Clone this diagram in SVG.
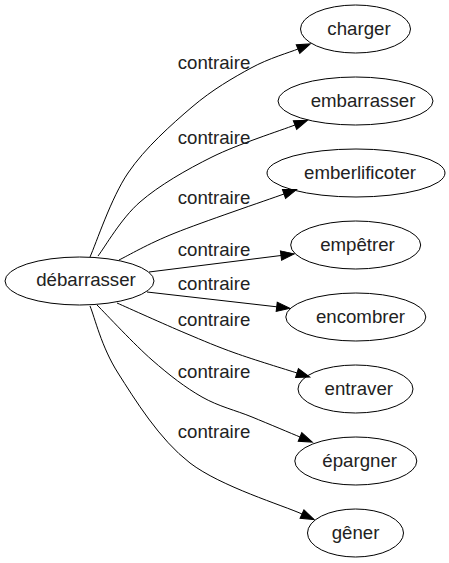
<svg xmlns="http://www.w3.org/2000/svg" width="449" height="563" viewBox="0 0 449 563">
<style>
  .node ellipse { fill: none; stroke: #000; stroke-width: 1; }
  .node text, .lbl { font-family: "Liberation Sans", Arial, sans-serif; font-size: 18.67px; fill: #222; text-anchor: middle; }
  .edge path { fill: none; stroke: #000; stroke-width: 1; }
</style>
<defs>
  <marker id="arr" markerUnits="userSpaceOnUse" markerWidth="16" markerHeight="12" viewBox="0 -6 15 12" refX="0" refY="0" orient="auto" overflow="visible">
    <path d="M0,-4.67 L13.33,0 L0,4.67 Z" fill="#000" stroke="#000" stroke-width="1"/>
  </marker>
</defs>
<rect width="449" height="563" fill="#fff"/>
<g id="connectors">
  <g class="edge" id="e1">
    <path marker-end="url(#arr)" d="M90,257 C96.3,243 111,198 128,173 C145,148 171.5,124.5 192,107 C212.5,89.5 233.3,77.7 251,68 C268.7,58.3 290.2,52.2 298,49"/>
    <text class="lbl" x="214" y="69.3">contraire</text>
  </g>
  <g class="edge" id="e2">
    <path marker-end="url(#arr)" d="M98,256 C105,247 121,218.5 140,202 C159,185.5 186.2,169.8 212,157 C237.8,144.2 281.2,130.3 295,125"/>
    <text class="lbl" x="214" y="144">contraire</text>
  </g>
  <g class="edge" id="e3">
    <path marker-end="url(#arr)" d="M119,260 C128.3,255.5 147.5,244 175,233 C202.5,222 265.8,200.5 284,194"/>
    <text class="lbl" x="214" y="204">contraire</text>
  </g>
  <g class="edge" id="e4">
    <path marker-end="url(#arr)" d="M149,272 L281,255.5"/>
    <text class="lbl" x="214" y="256">contraire</text>
  </g>
  <g class="edge" id="e5">
    <path marker-end="url(#arr)" d="M147,292 L276.7,306.8"/>
    <text class="lbl" x="214" y="290">contraire</text>
  </g>
  <g class="edge" id="e6">
    <path marker-end="url(#arr)" d="M117,303 C128.3,308 165.3,324.7 185,333 C204.7,341.3 216.3,346.3 235,353 C253.7,359.7 286.7,369.7 297,373"/>
    <text class="lbl" x="214" y="326">contraire</text>
  </g>
  <g class="edge" id="e7">
    <path marker-end="url(#arr)" d="M97,305 C106.2,314.2 134.5,344.7 152,360 C169.5,375.3 185.3,387.5 202,397 C218.7,406.5 235.7,410.3 252,417 C268.3,423.7 292,433.7 300,437"/>
    <text class="lbl" x="214" y="378.3">contraire</text>
  </g>
  <g class="edge" id="e8">
    <path marker-end="url(#arr)" d="M90,306 C94.7,317.2 101.3,346.8 118,373 C134.7,399.2 159.3,439.5 190,463 C220.7,486.5 283.3,505.5 302,514"/>
    <text class="lbl" x="214" y="437.5">contraire</text>
  </g>
</g>
<g class="node" id="n_debarrasser">
  <ellipse cx="79.5" cy="281" rx="74.5" ry="24"/>
  <text x="86" y="286">débarrasser</text>
</g>
<g class="node" id="n_charger">
  <ellipse cx="355.5" cy="29" rx="55" ry="24"/>
  <text x="359" y="34.5">charger</text>
</g>
<g class="node" id="n_embarrasser">
  <ellipse cx="355.5" cy="101" rx="77.5" ry="24"/>
  <text x="363" y="106.5">embarrasser</text>
</g>
<g class="node" id="n_emberlificoter">
  <ellipse cx="356" cy="173" rx="89" ry="24"/>
  <text x="360" y="178.5">emberlificoter</text>
</g>
<g class="node" id="n_empetrer">
  <ellipse cx="355.7" cy="245" rx="65" ry="24"/>
  <text x="357.5" y="250.5">empêtrer</text>
</g>
<g class="node" id="n_encombrer">
  <ellipse cx="355.8" cy="317" rx="70" ry="24"/>
  <text x="360.5" y="322.5">encombrer</text>
</g>
<g class="node" id="n_entraver">
  <ellipse cx="355.5" cy="389" rx="57.5" ry="24"/>
  <text x="358.8" y="394.5">entraver</text>
</g>
<g class="node" id="n_epargner">
  <ellipse cx="355.8" cy="461" rx="61" ry="24"/>
  <text x="359.7" y="466.5">épargner</text>
</g>
<g class="node" id="n_gener">
  <ellipse cx="355.5" cy="533" rx="48" ry="24"/>
  <text x="355.5" y="538.5">gêner</text>
</g>
</svg>
